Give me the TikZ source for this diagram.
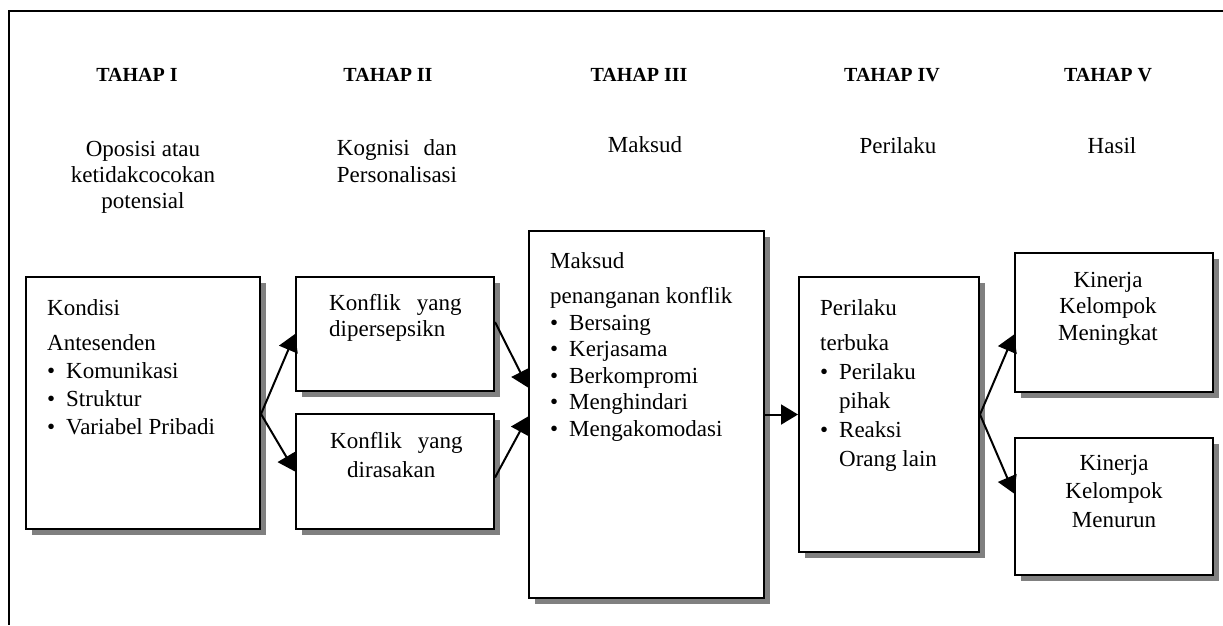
\documentclass[tikz,border=0pt]{standalone}
\usepackage{fontspec}
\setmainfont{Liberation Serif}
\usetikzlibrary{arrows.meta,shadows,calc}
\definecolor{shadowgray}{HTML}{808080}
\tikzset{
  box/.style={draw=black,line width=2pt,fill=white,inner sep=0pt,
    drop shadow={shadow xshift=6pt,shadow yshift=-6pt,fill=shadowgray,opacity=1}},
  txt/.style={inner sep=0pt,anchor=base west,align=left,font=\fontsize{23}{28}\selectfont},
  ctxt/.style={txt,anchor=base,align=center},
  head/.style={inner sep=0pt,anchor=base,font=\fontsize{20}{24}\selectfont\bfseries},
  ar/.style={-{Triangle[length=17pt,width=20pt]},line width=2pt},
}
\newcommand{\blt}{\makebox[19pt][l]{\textbullet}}
\newcommand{\bltgap}{\hspace*{19pt}}

\begin{document}
\begin{tikzpicture}[x=1pt,y=-1pt]
  \useasboundingbox (0,0) rectangle (1223,625);
  \draw[line width=1.6pt] (1223,11) -- (9,11) -- (9,625);

  % judul tahap (base = baris terakhir)
  \foreach \n/\x/\t in {1/137/I,2/388/II,3/639/III,4/892/IV,5/1108/V}
    \node[head] (tahap\n) at (\x,81) {TAHAP \t};
  \node[ctxt,font=\fontsize{23}{26}\selectfont] (subA) at (143,208) {Oposisi atau\\ketidakcocokan\\potensial};
  \node[ctxt,align=left,font=\fontsize{23}{27}\selectfont] (subB) at (397,182) {Kognisi\hspace{0.6em}dan\\Personalisasi};
  \node[ctxt] (subC) at (645,152) {Maksud};
  \node[ctxt] (subD) at (898,153) {Perilaku};
  \node[ctxt] (subE) at (1112,153) {Hasil};

  % kotak
  \node[box,minimum width=234,minimum height=252] (kond) at (143,403) {};
  \node[box,minimum width=198,minimum height=114] (persep) at (395,334) {};
  \node[box,minimum width=198,minimum height=115] (rasa) at (395,471.5) {};
  \node[box,minimum width=235,minimum height=367] (maksud) at (646.5,414.5) {};
  \node[box,minimum width=180,minimum height=275] (perilaku) at (889,414.5) {};
  \node[box,minimum width=198,minimum height=139] (naik) at (1114,322.5) {};
  \node[box,minimum width=198,minimum height=137] (turun) at (1114,506.5) {};

  % isi kotak
  \node[txt] (kondTxt) at (47,434) {Kondisi\\[7pt]Antesenden\\\blt Komunikasi\\\blt Struktur\\\blt Variabel Pribadi};
  \node[txt,font=\fontsize{23}{26}\selectfont] (persepTxt) at (329,336) {Konflik\hspace{0.7em}yang\\dipersepsikn};
  \node[txt,font=\fontsize{23}{29}\selectfont] (rasaTxt) at (330,477) {Konflik\hspace{0.7em}yang\\\hspace*{17pt}dirasakan};
  \node[txt,font=\fontsize{23}{26.5}\selectfont] (maksudTxt) at (550,436) {Maksud\\[9pt]penanganan konflik\\\blt Bersaing\\\blt Kerjasama\\\blt Berkompromi\\\blt Menghindari\\\blt Mengakomodasi};
  \node[txt,font=\fontsize{23}{29}\selectfont] (perilakuTxt) at (820,466) {Perilaku\\[6pt]terbuka\\\blt Perilaku\\\bltgap pihak\\\blt Reaksi\\\bltgap Orang lain};
  \node[ctxt,font=\fontsize{23}{26.5}\selectfont] (naikTxt) at (1108,340) {Kinerja\\Kelompok\\Meningkat};
  \node[ctxt,font=\fontsize{23}{28.5}\selectfont] (turunTxt) at (1114,527) {Kinerja\\Kelompok\\Menurun};

  % panah
  \coordinate (forkA) at ($(kond.east)+(0,11)$);
  \draw[ar] (forkA) -- (persep.west);
  \draw[ar] (forkA) -- (rasa.west);
  \draw[ar] ($(persep.east)+(0,-12)$) -- ($(maksud.west)+(0,-27)$);
  \draw[ar] ($(rasa.east)+(0,6)$) -- ($(maksud.west)+(0,2)$);
  \draw[ar] (maksud.east) -- (perilaku.west);
  \draw[ar] (perilaku.east) -- ($(naik.west)+(0,12)$);
  \draw[ar] (perilaku.east) -- ($(turun.west)+(0,-13)$);
\end{tikzpicture}
\end{document}
